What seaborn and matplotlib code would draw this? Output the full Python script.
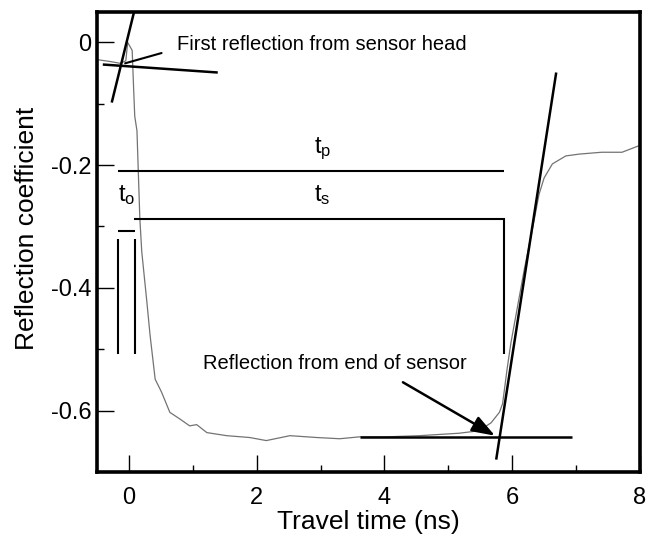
import matplotlib
matplotlib.use("Agg")
import matplotlib.pyplot as plt
import seaborn as sns
import pandas as pd

# Measured TDR waveform: travel time (ns) vs reflection coefficient
time_ns = [-0.50, -0.30, -0.14, -0.05, -0.02, 0.05, 0.07, 0.09, 0.125, 0.17,
           0.20, 0.28, 0.33, 0.41, 0.51, 0.64, 0.80, 0.95, 1.06, 1.22,
           1.53, 1.89, 2.15, 2.52, 2.94, 3.30, 3.60, 4.00, 4.55, 5.17,
           5.48, 5.67, 5.80, 5.85, 5.92, 5.98, 6.19, 6.34, 6.42, 6.50,
           6.63, 6.84, 7.05, 7.40, 7.72, 7.97, 8.00]
reflection = [-0.028, -0.031, -0.034, -0.030, 0.000, -0.013, -0.068, -0.120, -0.144, -0.287,
              -0.341, -0.423, -0.477, -0.549, -0.570, -0.603, -0.614, -0.625, -0.623, -0.636,
              -0.641, -0.644, -0.649, -0.641, -0.644, -0.646, -0.643, -0.643, -0.641, -0.637,
              -0.633, -0.620, -0.603, -0.589, -0.533, -0.490, -0.370, -0.292, -0.248, -0.221,
              -0.198, -0.185, -0.182, -0.179, -0.179, -0.169, -0.168]

# Tangent construction lines (x pairs, y pairs)
head_steep_x, head_steep_y = [-0.27, 0.08], [-0.098, 0.05]
head_flat_x, head_flat_y = [-0.41, 1.39], [-0.036, -0.049]
end_steep_x, end_steep_y = [5.75, 6.69], [-0.680, -0.049]
end_flat_x, end_flat_y = [3.61, 6.94], [-0.643, -0.643]

# Timing interval brackets
tp_x, tp_y = [-0.17, 5.875], [-0.21, -0.21]
ts_x, ts_y = [0.08, 5.875, 5.875], [-0.287, -0.287, -0.508]
to_bar_x, to_bar_y = [-0.17, 0.09], [-0.308, -0.308]
to_left_x, to_left_y = [-0.17, -0.17], [-0.32, -0.508]
to_right_x, to_right_y = [0.09, 0.09], [-0.32, -0.508]

x_major = [0, 2, 4, 6, 8]
x_minor = [1, 3, 5, 7]
y_major = [0, -0.2, -0.4, -0.6]
y_major_labels = ["0", "-0.2", "-0.4", "-0.6"]
y_minor = [-0.1, -0.3, -0.5]

sns.set_style("ticks")
plt.rcParams["font.family"] = ["Liberation Sans", "DejaVu Sans"]
plt.rcParams["mathtext.default"] = "regular"
plt.rcParams["axes.unicode_minus"] = False
plt.rcParams["text.color"] = "black"
plt.rcParams["axes.labelcolor"] = "black"

fig = plt.figure(figsize=(6.47, 5.35), dpi=100)
ax = fig.add_axes([0.150, 0.118, 0.839, 0.860])

df = pd.DataFrame({"time": time_ns, "refl": reflection})
sns.lineplot(data=df, x="time", y="refl", ax=ax, color="0.45", lw=0.9,
             estimator=None, sort=False)

line_kw = dict(color="black", lw=1.8, solid_capstyle="butt")
for xs, ys in [(head_steep_x, head_steep_y), (head_flat_x, head_flat_y),
               (end_steep_x, end_steep_y), (end_flat_x, end_flat_y)]:
    ax.plot(xs, ys, **line_kw)

bracket_kw = dict(color="black", lw=1.5, solid_capstyle="butt", solid_joinstyle="miter")
for xs, ys in [(tp_x, tp_y), (ts_x, ts_y), (to_bar_x, to_bar_y),
               (to_left_x, to_left_y), (to_right_x, to_right_y)]:
    ax.plot(xs, ys, **bracket_kw)

ax.text(3.03, -0.174, "$t_p$", fontsize=17, ha="center", va="center", color="black")
ax.text(3.03, -0.248, "$t_s$", fontsize=17, ha="center", va="center", color="black")
ax.text(-0.03, -0.248, "$t_o$", fontsize=17, ha="center", va="center", color="black")

ax.annotate("First reflection from sensor head", xy=(-0.06, -0.034),
            xytext=(0.75, -0.013), fontsize=14.5, ha="left", va="baseline",
            color="black",
            arrowprops=dict(arrowstyle="-", lw=1.5, color="black",
                            relpos=(0, 0.3), shrinkA=9, shrinkB=0))
ax.annotate("Reflection from end of sensor", xy=(5.73, -0.641),
            xytext=(1.16, -0.533), fontsize=14.5, ha="left", va="baseline",
            color="black",
            arrowprops=dict(arrowstyle="-|>,head_length=0.7,head_width=0.25",
                            mutation_scale=20, lw=1.8, color="black",
                            relpos=(0.70, 0), shrinkA=8, shrinkB=0))

ax.set_xlim(-0.5, 8)
ax.set_ylim(-0.7, 0.05)
ax.set_xticks(x_major)
ax.set_xticks(x_minor, minor=True)
ax.set_yticks(y_major)
ax.set_yticklabels(y_major_labels)
ax.set_yticks(y_minor, minor=True)
ax.tick_params(which="major", direction="in", length=12, width=1, labelsize=17,
               colors="black", labelcolor="black")
ax.tick_params(axis="x", which="major", pad=11)
ax.tick_params(axis="y", which="major", pad=4)
ax.tick_params(which="minor", direction="in", length=5, width=1, colors="black")
for s in ax.spines.values():
    s.set_linewidth(2.6)
    s.set_color("black")

ax.set_xlabel("Travel time (ns)", fontsize=19, color="black")
ax.set_ylabel("Reflection coefficient", fontsize=19, color="black")
ax.xaxis.set_label_coords(0.5, -0.083)
ax.yaxis.set_label_coords(-0.107, 0.53)

fig.savefig("out.png", dpi=100)
